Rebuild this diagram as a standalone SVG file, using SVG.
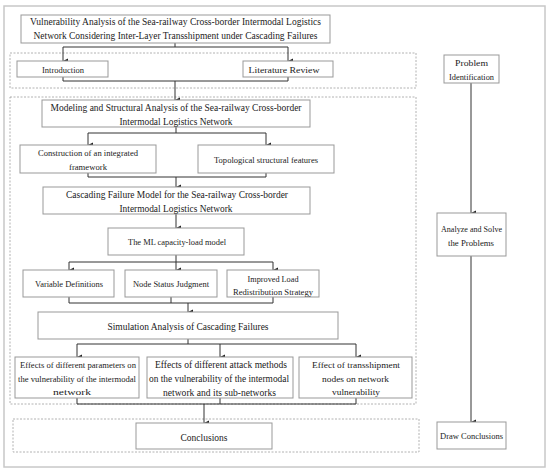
<svg xmlns="http://www.w3.org/2000/svg" width="550" height="472" viewBox="0 0 550 472">
<defs>
<marker id="ah" markerUnits="userSpaceOnUse" markerWidth="6" markerHeight="6" viewBox="0 0 6 6" refX="3" refY="6" orient="auto-start-reverse">
<path d="M0.5,1 L5.5,1 L3,6 Z" fill="#222"/>
</marker>
<style>
.frame{fill:#fff;stroke:#c8c8c8;stroke-width:1.5}
.dash{fill:none;stroke:#a0a0a0;stroke-width:0.8;stroke-dasharray:2 1.5}
.box{fill:#fff;stroke:#999;stroke-width:1}
.c{fill:none;stroke:#333;stroke-width:1}
text{fill:#222;text-anchor:middle;dominant-baseline:central}
.t{font-size:10.5px}
.m{font-size:10px}
.s{font-size:8.5px}
</style>
</defs>
<rect width="550" height="472" fill="#fff"/>
<rect class="frame" x="4" y="6" width="541" height="461"/>
<rect class="dash" x="10" y="53" width="406" height="35"/>
<rect class="dash" x="10" y="97" width="406" height="307"/>
<rect class="dash" x="13" y="419" width="406" height="33"/>

<g id="connectors">
<path class="c" d="M175,43 V47 M63,47 H288"/>
<path class="c" d="M63,47 V61" marker-end="url(#ah)"/>
<path class="c" d="M288,47 V61" marker-end="url(#ah)"/>
<path class="c" d="M63,77 V81 H288 V77"/>
<path class="c" d="M175,81 V100" marker-end="url(#ah)"/>
<path class="c" d="M176,127 V133 M88,133 H266"/>
<path class="c" d="M88,133 V145" marker-end="url(#ah)"/>
<path class="c" d="M266,133 V145" marker-end="url(#ah)"/>
<path class="c" d="M88,173 V177 H266 V173"/>
<path class="c" d="M176,177 V187" marker-end="url(#ah)"/>
<path class="c" d="M176,214 V228" marker-end="url(#ah)"/>
<path class="c" d="M176,255 V262 M69,262 H273"/>
<path class="c" d="M69,262 V270" marker-end="url(#ah)"/>
<path class="c" d="M176,262 V270" marker-end="url(#ah)"/>
<path class="c" d="M273,262 V270" marker-end="url(#ah)"/>
<path class="c" d="M69,297 V303 H273 V297 M171,297 V303"/>
<path class="c" d="M188,303 V312" marker-end="url(#ah)"/>
<path class="c" d="M188,339 V344 M77,344 H356"/>
<path class="c" d="M77,344 V357" marker-end="url(#ah)"/>
<path class="c" d="M220,344 V357" marker-end="url(#ah)"/>
<path class="c" d="M356,344 V357" marker-end="url(#ah)"/>
<path class="c" d="M77,398 V404 H356 V398 M220,398 V404"/>
<path class="c" d="M204,404 V423" marker-end="url(#ah)"/>
<path class="c" d="M471,83 V213" marker-end="url(#ah)"/>
<path class="c" d="M471,256 V422" marker-end="url(#ah)"/>
</g>

<g font-family="'Liberation Serif', 'DejaVu Serif', serif">
<g id="title">
<rect class="box" x="21" y="15" width="309" height="28"/>
<text class="t" x="175.5" y="21.5" textLength="291" lengthAdjust="spacingAndGlyphs">Vulnerability Analysis of the Sea-railway Cross-border Intermodal Logistics</text>
<text class="t" x="175.5" y="35.5" textLength="284" lengthAdjust="spacingAndGlyphs">Network Considering Inter-Layer Transshipment under Cascading Failures</text>
</g>
<g id="introduction">
<rect class="box" x="17" y="61" width="91" height="16"/>
<text class="s" x="63" y="69.5" textLength="42" lengthAdjust="spacingAndGlyphs">Introduction</text>
</g>
<g id="literature">
<rect class="box" x="243" y="61" width="90" height="16"/>
<text class="s" x="284" y="69.5" textLength="71" lengthAdjust="spacingAndGlyphs">Literature Review</text>
</g>
<g id="modeling">
<rect class="box" x="42" y="100" width="268" height="27"/>
<text class="m" x="176" y="107" textLength="251" lengthAdjust="spacingAndGlyphs">Modeling and Structural Analysis of the Sea-railway Cross-border</text>
<text class="m" x="176" y="121" textLength="113" lengthAdjust="spacingAndGlyphs">Intermodal Logistics Network</text>
</g>
<g id="construction">
<rect class="box" x="20" y="145" width="136" height="28"/>
<text class="s" x="88" y="152.5" textLength="100" lengthAdjust="spacingAndGlyphs">Construction of an integrated</text>
<text class="s" x="88" y="167" textLength="38" lengthAdjust="spacingAndGlyphs">framework</text>
</g>
<g id="topological">
<rect class="box" x="198" y="145" width="136" height="28"/>
<text class="s" x="266" y="160" textLength="104" lengthAdjust="spacingAndGlyphs">Topological structural features</text>
</g>
<g id="cascading">
<rect class="box" x="43" y="187" width="267" height="27"/>
<text class="m" x="177" y="194" textLength="222" lengthAdjust="spacingAndGlyphs">Cascading Failure Model for the Sea-railway Cross-border</text>
<text class="m" x="176" y="208" textLength="113" lengthAdjust="spacingAndGlyphs">Intermodal Logistics Network</text>
</g>
<g id="ml">
<rect class="box" x="108" y="228" width="136" height="27"/>
<text class="s" x="177" y="242" textLength="98" lengthAdjust="spacingAndGlyphs">The ML capacity-load model</text>
</g>
<g id="variable">
<rect class="box" x="23" y="270" width="91" height="27"/>
<text class="s" x="69" y="284" textLength="68" lengthAdjust="spacingAndGlyphs">Variable Definitions</text>
</g>
<g id="nodestatus">
<rect class="box" x="125" y="270" width="92" height="27"/>
<text class="s" x="171" y="284" textLength="76" lengthAdjust="spacingAndGlyphs">Node Status Judgment</text>
</g>
<g id="improved">
<rect class="box" x="227" y="270" width="92" height="27"/>
<text class="s" x="273" y="278.5" textLength="51" lengthAdjust="spacingAndGlyphs">Improved Load</text>
<text class="s" x="273" y="291.5" textLength="80" lengthAdjust="spacingAndGlyphs">Redistribution Strategy</text>
</g>
<g id="simulation">
<rect class="box" x="38" y="312" width="300" height="27"/>
<text class="m" x="188" y="326" textLength="161" lengthAdjust="spacingAndGlyphs">Simulation Analysis of Cascading Failures</text>
</g>
<g id="params">
<rect class="box" x="15" y="357" width="124" height="41"/>
<text class="s" x="78" y="365" textLength="116" lengthAdjust="spacingAndGlyphs">Effects of different parameters on</text>
<text class="s" x="77" y="379" textLength="118" lengthAdjust="spacingAndGlyphs">the vulnerability of the intermodal</text>
<text class="s" x="72" y="392" textLength="38" lengthAdjust="spacingAndGlyphs">network</text>
</g>
<g id="attack">
<rect class="box" x="147" y="357" width="146" height="41"/>
<text class="m" x="221" y="364.5" textLength="132" lengthAdjust="spacingAndGlyphs">Effects of different attack methods</text>
<text class="m" x="219" y="378.5" textLength="140" lengthAdjust="spacingAndGlyphs">on the vulnerability of the intermodal</text>
<text class="m" x="219.5" y="392" textLength="113" lengthAdjust="spacingAndGlyphs">network and its sub-networks</text>
</g>
<g id="transshipment">
<rect class="box" x="299" y="357" width="113" height="41"/>
<text class="s" x="356" y="364.5" textLength="88" lengthAdjust="spacingAndGlyphs">Effect of transshipment</text>
<text class="s" x="355.5" y="378.5" textLength="67" lengthAdjust="spacingAndGlyphs">nodes on network</text>
<text class="s" x="356" y="392" textLength="48" lengthAdjust="spacingAndGlyphs">vulnerability</text>
</g>
<g id="conclusions">
<rect class="box" x="136" y="423" width="136" height="26"/>
<text class="m" x="204" y="437" textLength="47" lengthAdjust="spacingAndGlyphs">Conclusions</text>
</g>
<g id="problem">
<rect class="box" x="444" y="55" width="55" height="28"/>
<text class="s" x="471.5" y="63" textLength="33" lengthAdjust="spacingAndGlyphs">Problem</text>
<text class="s" x="471.5" y="77" textLength="45" lengthAdjust="spacingAndGlyphs">Identification</text>
</g>
<g id="analyze">
<rect class="box" x="437" y="213" width="69" height="43"/>
<text class="s" x="471.5" y="229" textLength="61" lengthAdjust="spacingAndGlyphs">Analyze and Solve</text>
<text class="s" x="471" y="243" textLength="46" lengthAdjust="spacingAndGlyphs">the Problems</text>
</g>
<g id="draw">
<rect class="box" x="437" y="422" width="69" height="27"/>
<text class="s" x="471.5" y="436" textLength="63" lengthAdjust="spacingAndGlyphs">Draw Conclusions</text>
</g>
</g>
</svg>
